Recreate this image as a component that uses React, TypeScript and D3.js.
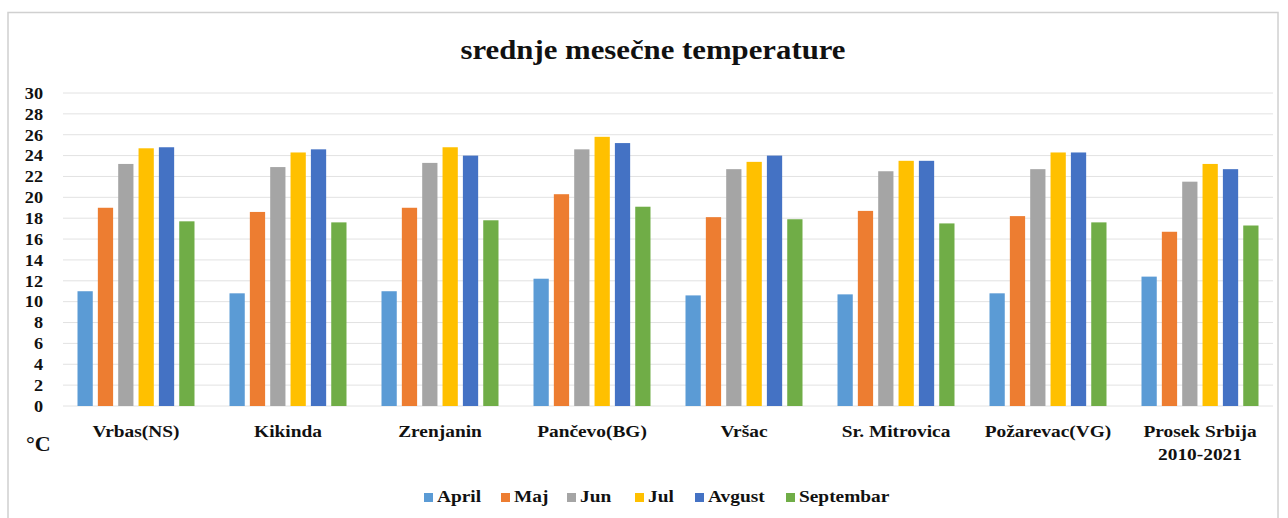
import React from "react";
import * as d3 from "d3";

const categories = [
  "Vrbas(NS)",
  "Kikinda",
  "Zrenjanin",
  "Pančevo(BG)",
  "Vršac",
  "Sr. Mitrovica",
  "Požarevac(VG)",
  "Prosek Srbija\n2010-2021",
];
const seriesNames = ["April", "Maj", "Jun", "Jul", "Avgust", "Septembar"];
const seriesColors = ["#5B9BD5", "#ED7D31", "#A5A5A5", "#FFC000", "#4472C4", "#70AD47"];
const april = [11.0, 10.8, 11.0, 12.2, 10.6, 10.7, 10.8, 12.4];
const maj = [19.0, 18.6, 19.0, 20.3, 18.1, 18.7, 18.2, 16.7];
const jun = [23.2, 22.9, 23.3, 24.6, 22.7, 22.5, 22.7, 21.5];
const jul = [24.7, 24.3, 24.8, 25.8, 23.4, 23.5, 24.3, 23.2];
const avgust = [24.8, 24.6, 24.0, 25.2, 24.0, 23.5, 24.3, 22.7];
const septembar = [17.7, 17.6, 17.8, 19.1, 17.9, 17.5, 17.6, 17.3];
const seriesValues = [april, maj, jun, jul, avgust, septembar];
const yTicks = [0, 2, 4, 6, 8, 10, 12, 14, 16, 18, 20, 22, 24, 26, 28, 30];

const FONT = "'Liberation Serif', 'Times New Roman', serif";
const SX = 1.14;

function T(props: {
  x: number;
  y: number;
  size: number;
  anchor?: "start" | "middle" | "end";
  dy?: string;
  sx?: number;
  children: React.ReactNode;
}) {
  const { x, y, size, anchor = "start", dy, sx = SX, children } = props;
  return (
    <text
      transform={`translate(${x},${y}) scale(${sx},1)`}
      dy={dy}
      textAnchor={anchor}
      fontSize={size}
      fontWeight="bold"
      fill="#111"
    >
      {children}
    </text>
  );
}

export default function App() {
  const W = 1288;
  const H = 518;
  const x0 = d3.scaleBand<string>().domain(categories).range([60, 1276]).padding(0);
  const x1 = d3
    .scaleBand<string>()
    .domain(seriesNames)
    .range([76 - 58.5, 76 + 58.5])
    .paddingInner(0.25)
    .paddingOuter(0);
  const y = d3.scaleLinear().domain([0, 30]).range([406, 93]);

  const legendX = [424, 501, 567, 635, 695, 786];

  return (
    <svg
      width={W}
      height={H}
      style={{ position: "absolute", left: 0, top: 0, background: "#fff" }}
      fontFamily={FONT}
    >
      <rect x={0} y={0} width={W} height={H} fill="#fff" />
      <rect x={8} y={12.5} width={1270} height={520} fill="#fff" stroke="#d0d0d0" strokeWidth={1.5} />
      <T x={653} y={59} size={27} anchor="middle">
        srednje mesečne temperature
      </T>
      {yTicks.map((t) => (
        <g key={t}>
          <line x1={63} x2={1273} y1={y(t)} y2={y(t)} stroke="#e2e2e2" strokeWidth={1} />
          <T x={43} y={y(t)} dy="0.36em" size={16} anchor="end">
            {t}
          </T>
        </g>
      ))}
      {categories.map((c, i) => (
        <g key={c} transform={`translate(${x0(c)},0)`}>
          {seriesNames.map((s, j) => (
            <rect
              key={s}
              x={x1(s)}
              y={y(seriesValues[j][i])}
              width={x1.bandwidth()}
              height={y(0) - y(seriesValues[j][i])}
              fill={seriesColors[j]}
            />
          ))}
          {c.split("\n").map((line, k) => (
            <T key={k} x={x0.bandwidth() / 2} y={437 + k * 23} size={17} anchor="middle">
              {line}
            </T>
          ))}
        </g>
      ))}
      <T x={26} y={451} size={22} sx={1}>
        °C
      </T>
      {seriesNames.map((s, j) => (
        <g key={s}>
          <rect x={legendX[j]} y={493} width={9} height={9} fill={seriesColors[j]} />
          <T x={legendX[j] + 13} y={502} size={17}>
            {s}
          </T>
        </g>
      ))}
    </svg>
  );
}
